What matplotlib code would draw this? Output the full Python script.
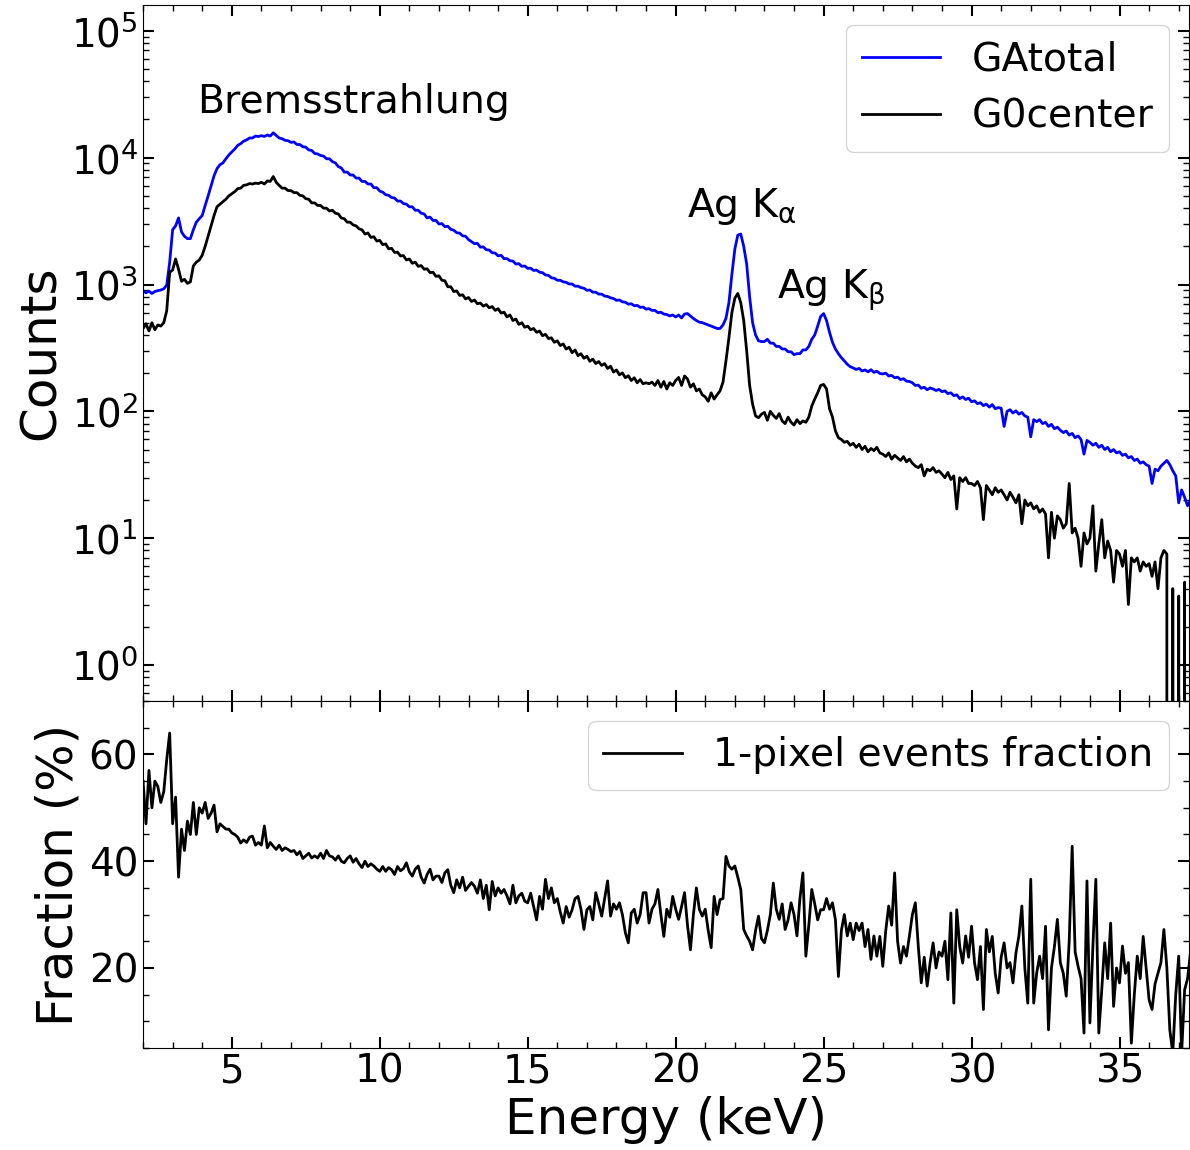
import numpy as np
import matplotlib
matplotlib.use('Agg')
import matplotlib.pyplot as plt
from matplotlib.ticker import MultipleLocator, LogLocator, NullFormatter

plt.rcParams['mathtext.default'] = 'regular'

# energy bins (keV), 0.1 keV wide
energy = np.round(np.arange(2.0, 37.45, 0.1), 1)

# GAtotal counts, one row per keV
ga_total = [
    890, 860, 885, 850, 880, 895, 905, 925, 985, 1500,
    2700, 2900, 3350, 2600, 2400, 2300, 2300, 2700, 3100, 3300,
    3500, 4200, 5000, 6000, 7200, 8200, 8800, 9100, 9800, 10500,
    11100, 11700, 12500, 12900, 13500, 13800, 14300, 14300, 14800, 14700,
    14900, 14700, 15100, 14800, 15700, 15000, 14300, 14100, 13700, 13600,
    13200, 13300, 12700, 12700, 12200, 12100, 11500, 11400, 10800, 10700,
    10400, 10300, 9800, 9800, 9300, 9100, 8500, 8300, 7700, 7700,
    7300, 7300, 6900, 6900, 6500, 6500, 6200, 6200, 5800, 5800,
    5450, 5350, 5100, 5050, 4850, 4800, 4550, 4550, 4350, 4300,
    4100, 4100, 3850, 3850, 3650, 3600, 3350, 3400, 3200, 3200,
    3000, 3020, 2860, 2880, 2720, 2680, 2560, 2540, 2420, 2400,
    2260, 2180, 2100, 2110, 1970, 1980, 1880, 1870, 1780, 1770,
    1680, 1700, 1600, 1600, 1540, 1530, 1450, 1460, 1390, 1400,
    1340, 1345, 1290, 1300, 1250, 1240, 1190, 1180, 1130, 1120,
    1080, 1080, 1050, 1040, 1010, 1010, 970, 970, 945, 935,
    900, 905, 870, 870, 840, 840, 810, 805, 785, 775,
    750, 755, 730, 725, 700, 705, 680, 685, 660, 665,
    640, 645, 625, 625, 600, 605, 585, 580, 565, 575,
    555, 575, 545, 585, 590, 565, 540, 520, 505, 500,
    490, 480, 470, 460, 450, 450, 480, 540, 720, 1200,
    1900, 2450, 2500, 2000, 1450, 800, 500, 400, 360, 355,
    355, 370, 345, 345, 325, 325, 310, 310, 295, 295,
    280, 285, 285, 305, 305, 325, 370, 400, 470, 560,
    590, 520, 420, 350, 310, 285, 265, 250, 235, 225,
    220, 214, 218, 208, 212, 205, 213, 203, 207, 199,
    197, 200, 190, 192, 184, 186, 178, 181, 173, 172,
    168, 160, 161, 152, 155, 148, 153, 150, 146, 149,
    143, 145, 138, 140, 133, 135, 126, 130, 124, 127,
    119, 121, 115, 117, 111, 114, 108, 113, 105, 107,
    106, 76, 100, 103, 97, 101, 95, 98, 92, 90,
    63, 86, 83, 86, 80, 82, 76, 79, 73, 75,
    71, 68, 70, 65, 67, 62, 64, 60, 46, 59,
    57, 54, 56, 52, 54, 50, 52, 48, 50, 47,
    48, 45, 46, 43, 44, 41, 42, 39, 40, 38,
    37, 27, 35, 34, 37, 39, 41, 38, 34, 31,
    19, 24, 21, 18, 20,
]

# G0center counts
g0_center = [
    450, 490, 430, 500, 440, 480, 470, 500, 620, 1250,
    1300, 1590, 1320, 1060, 1100, 1020, 1050, 1400, 1500, 1560,
    1700, 2000, 2400, 2900, 3500, 4100, 4300, 4500, 4700, 5000,
    5200, 5400, 5700, 5750, 6050, 6100, 6250, 6200, 6300, 6250,
    6400, 6200, 6550, 6500, 7100, 6400, 6050, 5750, 5750, 5500,
    5500, 5300, 5300, 5050, 5000, 4750, 4700, 4400, 4400, 4200,
    4200, 4000, 4000, 3800, 3850, 3650, 3600, 3350, 3300, 3100,
    3100, 2950, 2900, 2750, 2700, 2500, 2550, 2350, 2380, 2200,
    2230, 2060, 2090, 1910, 1930, 1790, 1800, 1680, 1690, 1560,
    1590, 1470, 1500, 1390, 1410, 1320, 1330, 1240, 1250, 1160,
    1170, 1080, 1070, 960, 960, 880, 890, 820, 830, 770,
    790, 735, 755, 705, 715, 675, 695, 655, 670, 625,
    645, 595, 605, 555, 575, 520, 535, 485, 500, 460,
    470, 440, 450, 420, 430, 395, 405, 375, 380, 350,
    360, 330, 340, 310, 320, 290, 305, 275, 285, 262,
    272, 248, 258, 238, 247, 230, 238, 218, 227, 204,
    212, 194, 201, 184, 191, 175, 184, 168, 178, 165,
    168, 165, 170, 160, 175, 155, 172, 150, 168, 160,
    175, 185, 160, 190, 180, 155, 165, 145, 150, 135,
    130, 120, 140, 125, 135, 145, 170, 250, 380, 600,
    780, 850, 720, 520, 300, 160, 114, 92, 89, 95,
    98, 85, 100, 93, 88, 96, 84, 80, 90, 82,
    78, 86, 80, 84, 82, 90, 110, 125, 140, 160,
    163, 150, 105, 90, 70, 62, 60, 57, 58, 54,
    56, 52, 55, 50, 53, 48, 51, 49, 52, 47,
    46, 44, 47, 42, 45, 43, 41, 44, 40, 42,
    39, 37, 36, 38, 31, 35, 34, 36, 33, 34,
    32, 30, 33, 29, 31, 17, 30, 28, 30, 27,
    27, 26, 28, 25, 14, 26, 24, 22, 25, 23,
    24, 22, 20, 23, 21, 19, 22, 13, 20, 18,
    19, 17, 18, 16, 17, 15.5, 7, 16, 10, 15,
    14, 12, 13, 27, 11, 12, 10, 6, 11, 9,
    10, 18, 5.5, 9, 14, 7, 9.5, 8, 4.5, 8,
    7.5, 6, 8, 3, 7, 6.5, 7, 5.5, 6.5, 6,
    6.3, 5, 6.5, 4, 7, 8, 7.5, 0, 4, 0,
    3.5, 0, 4.5, 0, 0,
]

# 1-pixel events fraction (%)
one_pixel_frac = [
    55, 47, 57, 50, 55, 54, 51, 53, 59, 64,
    47, 52, 37, 46, 42, 47.5, 45, 51, 45, 50,
    49, 51, 48, 49, 50.5, 45.5, 47, 46.5, 46, 46,
    45.3, 45, 44.5, 43.4, 44, 43.5, 44.5, 44.7, 43, 43.5,
    43, 46.6, 42.5, 43.5, 42.8, 42.2, 43, 42, 42.5, 42.2,
    41.8, 42, 41.2, 41.8, 40.5, 41, 41.5, 40.6, 41, 40.6,
    41.5, 40.5, 42, 41, 40.8, 40.2, 41, 40, 39.7, 40.5,
    41, 39.8, 40.5, 39.5, 38.8, 40, 39, 39.5, 39.1, 38.5,
    38.1, 39, 38.1, 38.8, 38.4, 37.5, 39, 38.2, 38.6, 39.7,
    38, 37.2, 38.5, 39.1, 37, 35.9, 37.5, 38.5, 36.5, 37.2,
    37.2, 36, 37.8, 38.4, 35.5, 34.1, 36.5, 35, 37, 34.5,
    35.3, 36, 35.3, 34, 36.5, 33, 35.5, 30.9, 36.2, 33.5,
    35, 34, 34.7, 33.5, 32, 35.5, 32.2, 33.5, 34, 32.5,
    32.2, 34, 31.5, 29, 33.4, 31, 36.6, 33, 35, 32.2,
    33, 30.5, 28.4, 31.5, 29.5, 30.9, 33, 33.4, 31, 27.2,
    30.9, 31.5, 29, 34.1, 32, 29.7, 33, 36.3, 29.7, 32,
    31, 32.2, 30, 26.6, 24.7, 30.3, 31, 28.4, 30, 34.1,
    34.1, 28.4, 31, 32, 34.7, 30, 25.9, 31, 29.5, 33.4,
    31, 29.1, 31.5, 34.1, 28, 23.4, 30, 35, 31, 29.7,
    31, 27, 23.8, 33.4, 30, 32.8, 33, 40.9, 39.1, 38.5,
    39.1, 37, 34.7, 27.2, 26, 25, 23.4, 27, 29.7, 25.5,
    24.7, 27, 30, 35.9, 31, 29.1, 32, 27.2, 29, 32.2,
    30, 26, 33, 37.8, 22.2, 28, 34.7, 32, 29, 30.9,
    30.9, 33, 31, 32.2, 29, 18.4, 27, 30, 26, 28.4,
    25.3, 28.4, 27, 28.4, 24, 27.2, 21.6, 26, 22.2, 25.9,
    20.3, 27, 31.6, 28, 37.8, 25, 20.9, 24, 22.2, 26,
    30, 32.2, 24, 17.2, 22, 16.6, 21, 24.7, 20, 23,
    22.2, 25, 17.8, 30.3, 13.4, 30.9, 24, 20.9, 26, 22,
    27.8, 21, 17.8, 24, 12.2, 27.2, 23, 25.9, 19, 15.3,
    22, 24.7, 20, 21, 17.2, 22.8, 26, 31.6, 20, 13.4,
    36.6, 13.4, 19, 22.2, 18, 27.8, 8.4, 20, 24, 29.1,
    21, 19, 14.7, 25, 42.8, 23, 20.3, 18, 7.8, 36.3,
    9.7, 24, 36.6, 7.8, 15.9, 24.7, 18, 28.4, 12.8, 20,
    17.2, 24.1, 19, 21, 5.9, 15, 22.2, 18, 25.9, 20,
    14, 12.2, 17, 19, 21, 27.2, 20, 8.4, 4, 15,
    22.2, 4, 15.9, 18, 23,
]

fig = plt.figure(figsize=(11.9, 11.5), dpi=100)
ax = fig.add_axes([0.1202, 0.3904, 0.879, 0.6053])
ax2 = fig.add_axes([0.1202, 0.0887, 0.879, 0.3017], sharex=ax)

ax.plot(energy, ga_total, color='blue', lw=2, label='GAtotal')
ax.plot(energy, g0_center, color='black', lw=2, label='G0center')
ax.set_yscale('log')
ax.set_ylim(0.52, 1.6e5)
ax.set_xlim(2.0, 37.35)
ax.yaxis.set_major_locator(LogLocator(base=10, numticks=10))
ax.yaxis.set_minor_locator(LogLocator(base=10, subs=np.arange(2, 10), numticks=20))
ax.yaxis.set_minor_formatter(NullFormatter())
ax.set_ylabel('Counts', fontsize=36)
ax.legend(loc='upper right', fontsize=28.3)
plt.setp(ax.get_xticklabels(), visible=False)

ax.text(9.1, 2.25e4, 'Bremsstrahlung', fontsize=28.4, ha='center', va='baseline')
ax.text(22.25, 3400, r'Ag K$_\alpha$', fontsize=28.4, ha='center', va='baseline')
ax.text(25.25, 770, r'Ag K$_\beta$', fontsize=28.4, ha='center', va='baseline')

ax2.plot(energy, one_pixel_frac, color='black', lw=2, label='1-pixel events fraction')
ax2.set_ylim(5, 70)
ax2.yaxis.set_major_locator(MultipleLocator(20))
ax2.yaxis.set_minor_locator(MultipleLocator(5))
ax2.xaxis.set_major_locator(MultipleLocator(5))
ax2.xaxis.set_minor_locator(MultipleLocator(1))
ax2.set_xlabel('Energy (keV)', fontsize=36)
ax2.set_ylabel('Fraction (%)', fontsize=36)
ax2.legend(loc='upper right', fontsize=28.3)

for a in (ax, ax2):
    a.tick_params(which='both', direction='in', top=True, right=True, labelsize=28)
    a.tick_params(which='major', length=8, width=1.5)
    a.tick_params(which='minor', length=4, width=1)

fig.savefig('out.png', dpi=100)
